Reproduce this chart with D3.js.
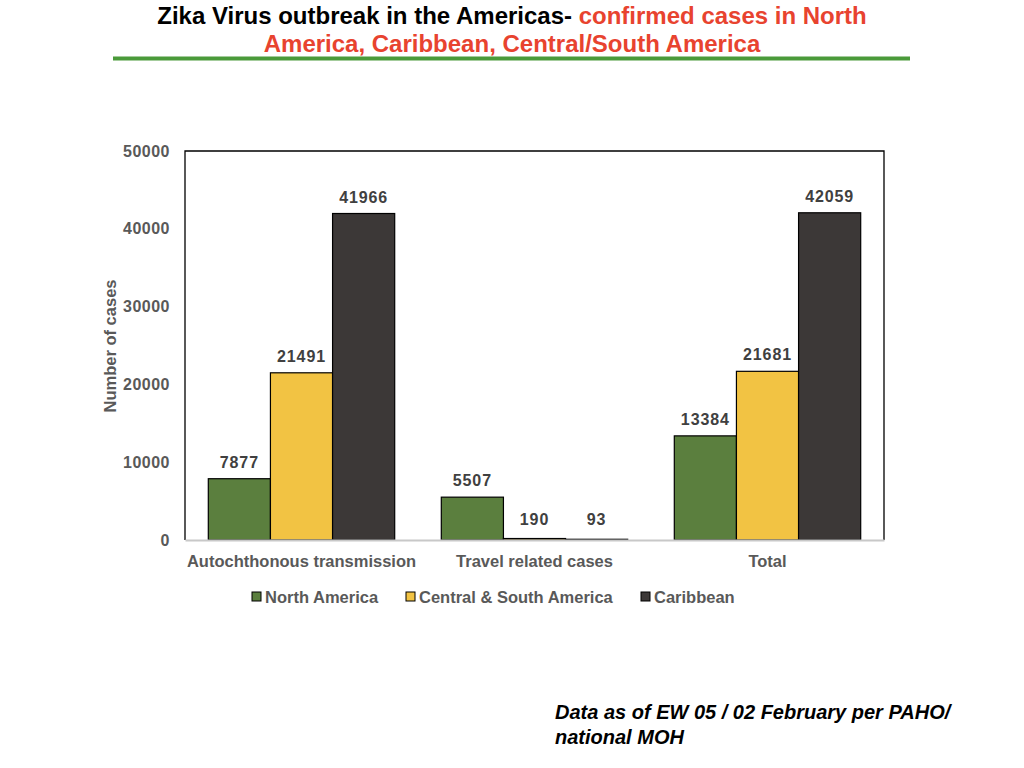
<!DOCTYPE html>
<html>
<head>
<meta charset="utf-8">
<script src="https://cdn.jsdelivr.net/npm/d3@7"></script>
<style>
  body { margin: 0; background: #fff; }
  svg text { font-family: "Liberation Sans", Arial, sans-serif; }
</style>
</head>
<body>
<div id="chart"></div>
<script>
// Chart data.
var categories = ["Autochthonous  transmission", "Travel related cases", "Total"];
var seriesNames = ["North America", "Central & South America", "Caribbean"];
var northAmerica = [7877, 5507, 13384];
var centralSouthAmerica = [21491, 190, 21681];
var caribbean = [41966, 93, 42059];
var yTicks = [0, 10000, 20000, 30000, 40000, 50000];

// Colours for each series.
var seriesColors = ["#5b7f3e", "#f2c343", "#3c3837"];

function drawChart() {
  var width = 1024, height = 768;
  var left = 185, right = 884, top = 151, bottom = 540;

  // 1. Build rows so the grouped bars can use them.
  var seriesValues = [northAmerica, centralSouthAmerica, caribbean];
  var rows = categories.map(function (cat, i) {
    return {category: cat, values: seriesNames.map(function (s, j) {
      return {series: s, index: j, value: seriesValues[j][i]};
    })};
  });

  var svg = d3.select("#chart").append("svg")
    .attr("width", width)
    .attr("height", height);

  // 2. Title with the green rule below it.
  var title = svg.append("text")
    .attr("text-anchor", "middle")
    .attr("font-size", 24)
    .attr("font-weight", "bold");
  var line1 = title.append("tspan").attr("x", 512).attr("y", 24);
  line1.append("tspan").attr("fill", "#000").text("Zika Virus outbreak in the Americas- ");
  line1.append("tspan").attr("fill", "#e8432f").text("confirmed cases in North");
  title.append("tspan").attr("x", 512).attr("y", 52).attr("fill", "#e8432f")
    .text("America, Caribbean, Central/South America");
  svg.append("line")
    .attr("x1", 113).attr("x2", 910)
    .attr("y1", 58.5).attr("y2", 58.5)
    .attr("stroke", "#4a9a3a")
    .attr("stroke-width", 4);

  // 3. Scales.
  var x0 = d3.scaleBand()
    .domain(categories)
    .range([left, right])
    .paddingInner(0.2)
    .paddingOuter(0.1);
  var x1 = d3.scaleBand()
    .domain(seriesNames)
    .range([0, x0.bandwidth()]);
  var y = d3.scaleLinear()
    .domain([0, 50000])
    .range([bottom, top]);

  // 4. Frame: black on top, left and right, grey base line.
  svg.append("path")
    .attr("d", "M" + left + "," + bottom + "V" + top + "H" + right + "V" + bottom)
    .attr("fill", "none")
    .attr("stroke", "#000")
    .attr("stroke-width", 1.3);

  // 5. Bars and their value labels.
  var groups = svg.selectAll("g.group").data(rows)
    .enter().append("g")
    .attr("class", "group")
    .attr("transform", function (d) { return "translate(" + x0(d.category) + ",0)"; });

  groups.selectAll("rect").data(function (d) { return d.values; })
    .enter().append("rect")
    .attr("x", function (d) { return x1(d.series); })
    .attr("width", x1.bandwidth())
    .attr("y", function (d) { return y(d.value); })
    .attr("height", function (d) { return y(0) - y(d.value); })
    .attr("fill", function (d) { return seriesColors[d.index]; })
    .attr("stroke", "#000")
    .attr("stroke-width", 1.2);

  groups.selectAll("text").data(function (d) { return d.values; })
    .enter().append("text")
    .attr("x", function (d) { return x1(d.series) + x1.bandwidth() / 2; })
    .attr("y", function (d) { return Math.min(y(d.value), y(0) - 4) - 11; })
    .attr("text-anchor", "middle")
    .attr("font-size", 16)
    .attr("letter-spacing", 0.9)
    .attr("font-weight", "bold")
    .attr("fill", "#404040")
    .text(function (d) { return d.value; });

  // 6. Axes.
  var xAxis = svg.append("g")
    .attr("transform", "translate(0," + bottom + ")")
    .call(d3.axisBottom(x0).tickSize(0).tickPadding(15));
  xAxis.select(".domain").attr("stroke", "#c8c8c8").attr("stroke-width", 2);
  xAxis.selectAll("text")
    .attr("font-size", 16.5)
    .attr("font-weight", "bold")
    .attr("fill", "#595959")
    .attr("font-family", "Liberation Sans, Arial, sans-serif");

  var yAxis = svg.append("g")
    .attr("transform", "translate(" + left + ",0)")
    .call(d3.axisLeft(y).tickValues(yTicks).tickSize(0).tickPadding(15).tickFormat(d3.format("d")));
  yAxis.select(".domain").remove();
  yAxis.selectAll("text")
    .attr("font-size", 16)
    .attr("letter-spacing", 0.5)
    .attr("font-weight", "bold")
    .attr("fill", "#595959")
    .attr("font-family", "Liberation Sans, Arial, sans-serif");

  svg.append("text")
    .attr("transform", "translate(116,346)rotate(-90)")
    .attr("text-anchor", "middle")
    .attr("font-size", 16.5)
    .attr("font-weight", "bold")
    .attr("fill", "#595959")
    .text("Number of cases");

  // 7. Legend.
  var legendX = [252, 406, 641];
  var legend = svg.selectAll("g.legend").data(seriesNames)
    .enter().append("g")
    .attr("class", "legend")
    .attr("transform", function (d, i) { return "translate(" + legendX[i] + ",592)"; });
  legend.append("rect")
    .attr("width", 9).attr("height", 9)
    .attr("fill", function (d, i) { return seriesColors[i]; })
    .attr("stroke", "#000");
  legend.append("text")
    .attr("x", 13).attr("y", 11)
    .attr("font-size", 16.5)
    .attr("font-weight", "bold")
    .attr("fill", "#595959")
    .text(function (d) { return d; });

  // 8. Source note.
  var note = svg.append("text")
    .attr("font-size", 20)
    .attr("font-weight", "bold")
    .attr("font-style", "italic")
    .attr("fill", "#000");
  note.append("tspan").attr("x", 555).attr("y", 719).text("Data as of EW 05 / 02 February per PAHO/");
  note.append("tspan").attr("x", 555).attr("y", 744).text("national MOH");
}

drawChart();
</script>
</body>
</html>
